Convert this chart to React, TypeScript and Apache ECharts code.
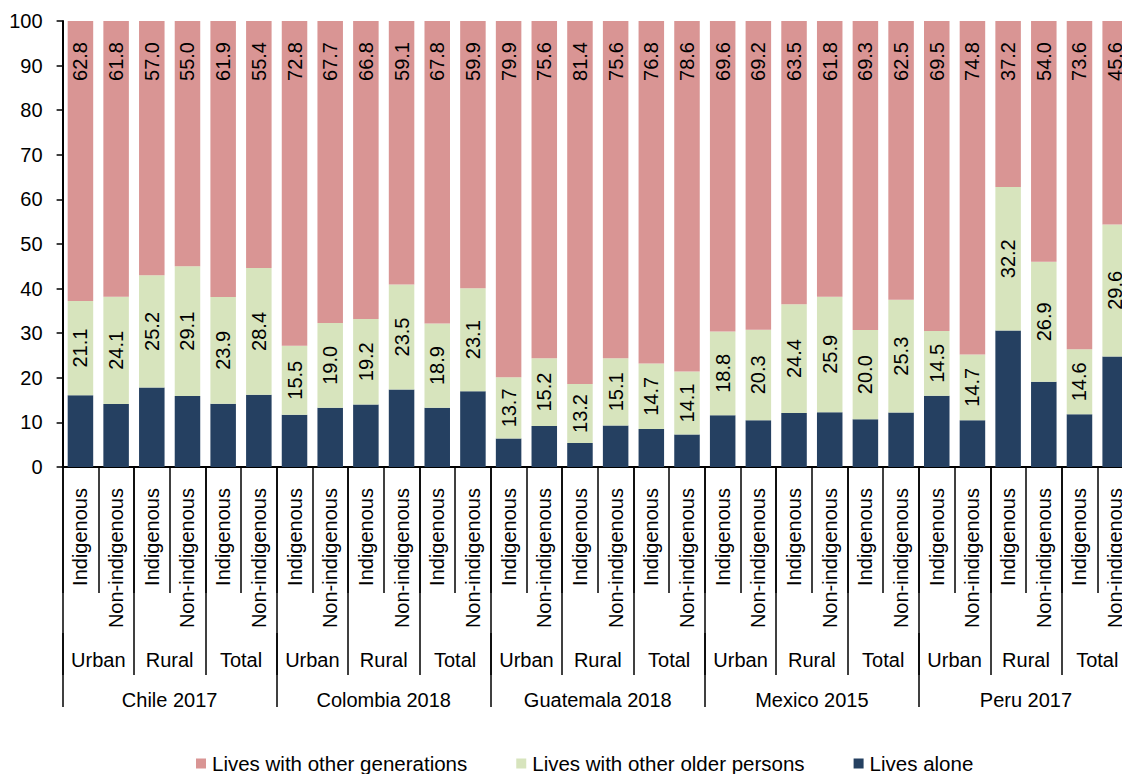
import { useEffect, useRef } from 'react';
import * as echarts from 'echarts';

const countries = ['Chile 2017', 'Colombia 2018', 'Guatemala 2018', 'Mexico 2015', 'Peru 2017'];
const areas = ['Urban', 'Rural', 'Total'];
const populations = ['Indigenous', 'Non-indigenous'];

const seriesNames = ['Lives with other generations', 'Lives with other older persons', 'Lives alone'];

const livesAlone = [
  16.1, 14.1, 17.8, 15.9, 14.2, 16.2,
  11.7, 13.3, 14.0, 17.4, 13.3, 17.0,
  6.4, 9.2, 5.4, 9.3, 8.5, 7.3,
  11.6, 10.5, 12.1, 12.3, 10.7, 12.2,
  16.0, 10.5, 30.6, 19.1, 11.8, 24.8,
];
const livesWithOlder = [
  21.1, 24.1, 25.2, 29.1, 23.9, 28.4,
  15.5, 19.0, 19.2, 23.5, 18.9, 23.1,
  13.7, 15.2, 13.2, 15.1, 14.7, 14.1,
  18.8, 20.3, 24.4, 25.9, 20.0, 25.3,
  14.5, 14.7, 32.2, 26.9, 14.6, 29.6,
];
const livesWithGenerations = [
  62.8, 61.8, 57.0, 55.0, 61.9, 55.4,
  72.8, 67.7, 66.8, 59.1, 67.8, 59.9,
  79.9, 75.6, 81.4, 75.6, 76.8, 78.6,
  69.6, 69.2, 63.5, 61.8, 69.3, 62.5,
  69.5, 74.8, 37.2, 54.0, 73.6, 45.6,
];

const FONT = "'Liberation Sans', Arial, sans-serif";
const COLORS = { generations: '#D99594', older: '#D7E4BD', alone: '#254061' };

export default function App() {
  const ref = useRef<HTMLDivElement>(null);

  useEffect(() => {
    if (!ref.current) return;
    const chart = echarts.init(ref.current, undefined, { renderer: 'svg' });

    const areaCats: string[] = [];
    countries.forEach(() => areas.forEach((a) => areaCats.push(a)));
    const popCats: string[] = [];
    areaCats.forEach(() => populations.forEach((p) => popCats.push(p)));

    const labelFmt = (p: any) => Number(p.value).toFixed(1);

    const option: any = {
      animation: false,
      backgroundColor: '#ffffff',
      textStyle: { fontFamily: FONT },
      grid: { left: 62.6, top: 21, right: 1, height: 446, containLabel: false },
      legend: {
        data: seriesNames,
        left: 191,
        top: 748,
        icon: 'rect',
        itemWidth: 10,
        itemHeight: 10,
        itemGap: 49,
        textStyle: { fontSize: 20.5, color: '#000', fontFamily: FONT, padding: [0, 0, 0, 1] },
      },
      yAxis: {
        type: 'value',
        min: 0,
        max: 100,
        interval: 10,
        axisLine: { show: true, lineStyle: { color: '#000', width: 2 } },
        axisTick: { show: true, length: 6, lineStyle: { color: '#000', width: 1.5 } },
        splitLine: { show: false },
        axisLabel: { fontSize: 20, color: '#000', margin: 20, fontFamily: FONT },
      },
      xAxis: [
        {
          type: 'category',
          data: popCats,
          position: 'bottom',
          axisLine: { show: true, lineStyle: { color: '#000', width: 2 } },
          axisTick: { show: true, interval: 0, length: 126, lineStyle: { color: '#000', width: 1.5 } },
          axisLabel: { interval: 0, rotate: 90, fontSize: 20, color: '#000', margin: 21, fontFamily: FONT },
        },
        {
          type: 'category',
          data: areaCats,
          position: 'bottom',
          axisLine: { show: false },
          axisTick: { show: true, interval: 0, length: 208, lineStyle: { color: '#000', width: 1.5 } },
          axisLabel: { interval: 0, fontSize: 20, color: '#000', margin: 183, fontFamily: FONT },
        },
        {
          type: 'category',
          data: countries,
          position: 'bottom',
          offset: 166,
          axisLine: { show: false },
          axisTick: { show: true, interval: 0, length: 74, lineStyle: { color: '#000', width: 1.5 } },
          axisLabel: { interval: 0, fontSize: 20, color: '#000', margin: 57, fontFamily: FONT },
        },
      ],
      series: [
        {
          name: 'Lives alone',
          type: 'bar',
          stack: 'total',
          xAxisIndex: 0,
          barCategoryGap: '28.5%',
          data: livesAlone,
          itemStyle: { color: COLORS.alone },
        },
        {
          name: 'Lives with other older persons',
          type: 'bar',
          stack: 'total',
          xAxisIndex: 0,
          barCategoryGap: '28.5%',
          data: livesWithOlder,
          itemStyle: { color: COLORS.older },
          label: {
            show: true,
            position: 'inside',
            rotate: 90,
            fontSize: 20,
            color: '#000',
            fontFamily: FONT,
            formatter: labelFmt,
          },
        },
        {
          name: 'Lives with other generations',
          type: 'bar',
          stack: 'total',
          xAxisIndex: 0,
          barCategoryGap: '28.5%',
          data: livesWithGenerations,
          itemStyle: { color: COLORS.generations },
          label: {
            show: true,
            position: 'insideTop',
            distance: 21,
            rotate: 90,
            align: 'right',
            verticalAlign: 'middle',
            fontSize: 20,
            color: '#000',
            fontFamily: FONT,
            formatter: labelFmt,
          },
        },
      ],
    };

    chart.setOption(option);
    return () => chart.dispose();
  }, []);

  return (
    <div
      style={{ position: 'fixed', left: 0, top: 0, width: 1122, height: 774, overflow: 'hidden', background: '#fff' }}
    >
      <div ref={ref} style={{ width: 1134, height: 774 }} />
    </div>
  );
}
